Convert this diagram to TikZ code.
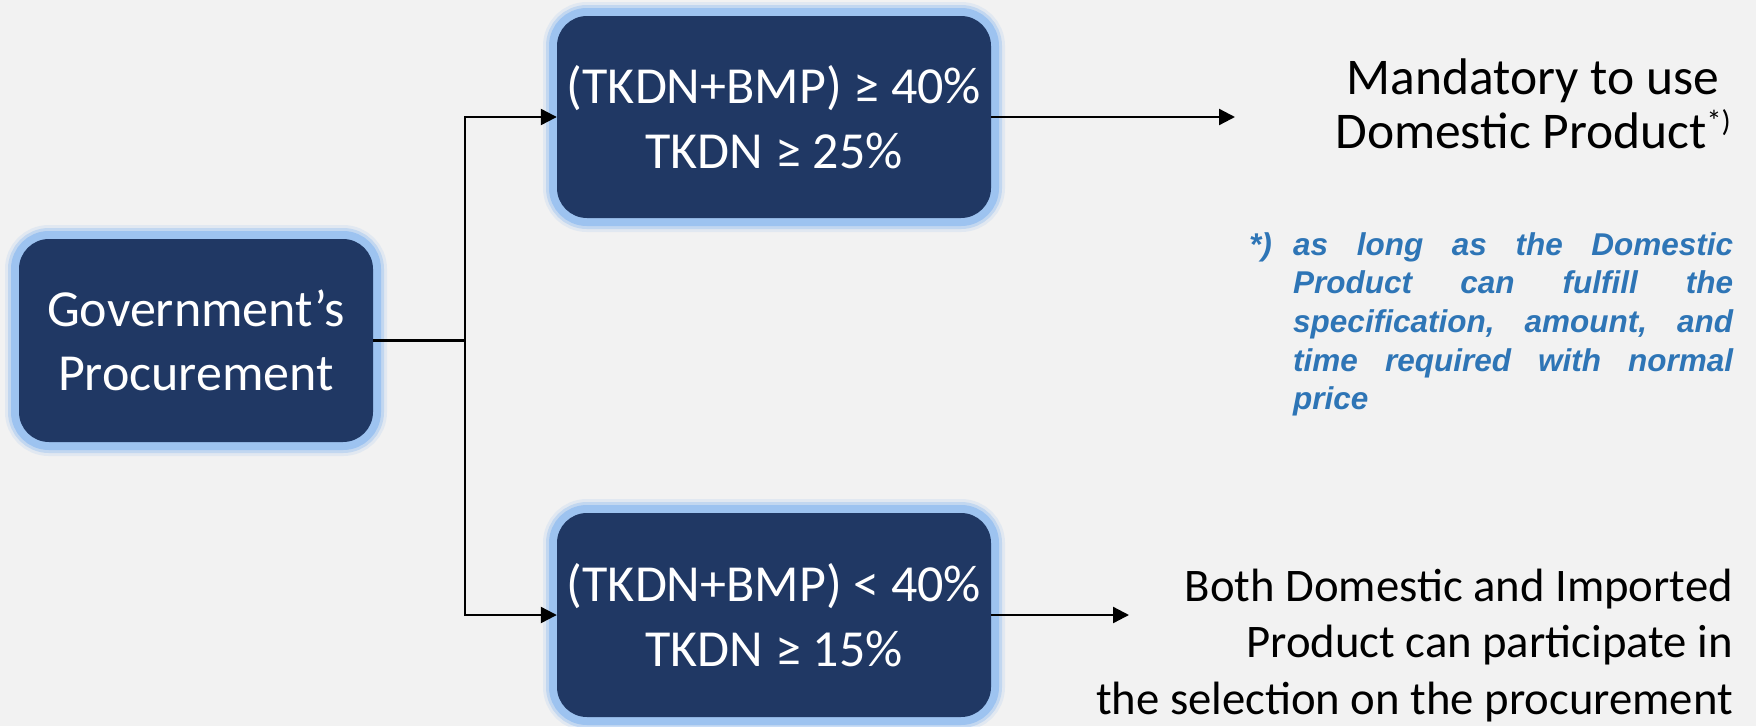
\documentclass[tikz,border=0pt]{standalone}
\usepackage{fontspec}
\setmainfont{Carlito}
\newfontfamily\notefont{Liberation Sans}
\usetikzlibrary{arrows.meta}
\definecolor{pagebg}{HTML}{F2F2F2}
\definecolor{boxnavy}{HTML}{203864}
\definecolor{glowblue}{HTML}{9DC3F0}
\definecolor{noteblue}{HTML}{2E75B6}
\begin{document}
\begin{tikzpicture}[x=1pt,y=-1pt,
  decision/.style={rectangle, rounded corners=30pt, fill=boxnavy, text=white,
    inner sep=0pt, align=center,
    preaction={draw=glowblue, line width=28pt, draw opacity=0.2},
    preaction={draw=glowblue, line width=22pt, draw opacity=0.45},
    preaction={draw=glowblue, line width=16pt}},
  outcome/.style={inner sep=0pt, text=black},
  conn/.style={draw=black, line width=2.3pt},
  arr/.style={conn, -{Triangle[length=16pt,width=16pt]}}]
% page background and fixed frame
\fill[pagebg] (0,0) rectangle (1756,726);
\useasboundingbox (0,0) rectangle (1756,726);

% decision boxes
\node[decision, minimum width=354pt, minimum height=203pt,
      font=\fontsize{52}{64}\selectfont] (gov) at (196,340.5) {Government’s\\Procurement};
\node[decision, minimum width=434pt, minimum height=202pt,
      font=\fontsize{52}{65}\selectfont] (high) at (774,117) {(TKDN+BMP) ≥ 40\%\\TKDN ≥ 25\%};
\node[decision, minimum width=434pt, minimum height=204pt,
      font=\fontsize{52}{65}\selectfont] (low) at (774,615) {(TKDN+BMP) < 40\%\\TKDN ≥ 15\%};

% outcomes
\node[outcome, align=center, anchor=base, font=\fontsize{51.5}{54}\selectfont]
  (mand) at (1533,148) {Mandatory to use\\Domestic Product\raisebox{17pt}{\fontsize{30}{30}\selectfont *)}};
\node[outcome, align=right, anchor=base east, font=\fontsize{46.7}{56.5}\selectfont]
  (both) at (1733,714) {Both Domestic and Imported\\Product can participate in\\the selection on the procurement};

% footnote
\node[inner sep=0pt, text width=484pt, align=justify, anchor=base west, text=noteblue,
      font=\notefont\bfseries\itshape\fontsize{31.5}{38.7}\selectfont] (note) at (1249,255)
  {\hbadness=10000\hangindent=44pt\hangafter=1\leavevmode\makebox[44pt][l]{*)}as long as the Domestic\linebreak
   Product can fulfill the\linebreak specification, amount, and\linebreak time required with normal\linebreak price\par};

% connectors
\coordinate (split) at (465,340.5);
\coordinate (mtip) at (1235,117);
\coordinate (btip) at (1129,615);
\draw[conn] (gov.east) -- (split);
\draw[arr] (split) |- (high.west);
\draw[arr] (split) |- (low.west);
\draw[arr] (high.east) -- (mtip);
\draw[arr] (low.east) -- (btip);
\end{tikzpicture}
\end{document}
